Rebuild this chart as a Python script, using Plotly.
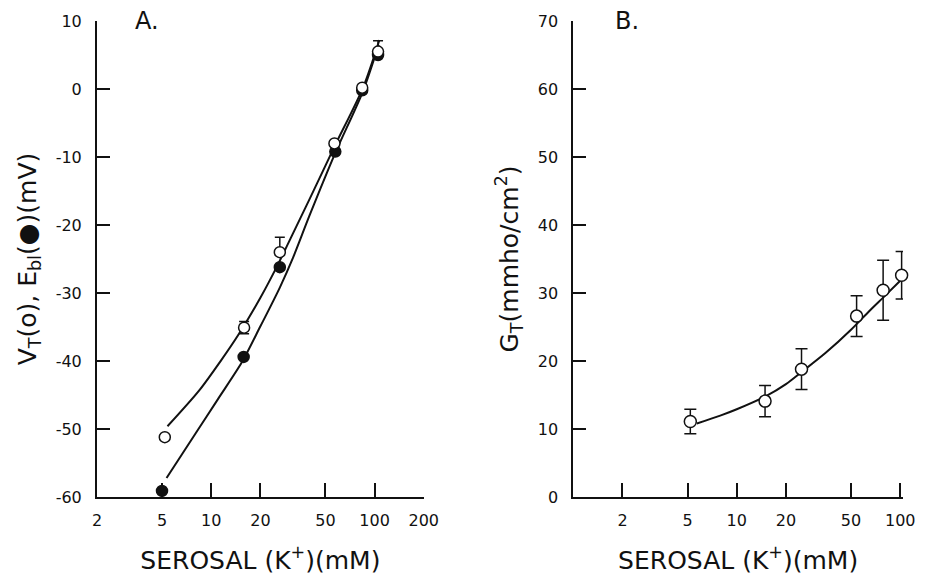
import numpy as np
import plotly.graph_objects as go

# ---------------- Data ----------------
# Panel A
vt_x = [5.2, 15.9, 26.3, 56.8, 84.0, 105.0]
vt_y = [-51.2, -35.1, -24.0, -8.0, 0.2, 5.5]
vt_err_plus = [0.0, 0.9, 2.2, 0.0, 0.0, 1.6]
vt_err_minus = [0.0, 0.9, 0.0, 0.0, 0.0, 0.0]

ebl_x = [5.0, 15.8, 26.3, 57.5, 84.0, 105.0]
ebl_y = [-59.1, -39.4, -26.2, -9.2, -0.2, 5.0]

vt_fit_x = [5.4, 8.4, 11.5, 14.7, 20.0, 25.5, 30.0, 40.0, 57.0, 85.0, 107.0]
vt_fit_y = [-49.6, -44.4, -39.9, -36.1, -30.7, -25.9, -22.4, -16.2, -8.4, 0.2, 7.2]

ebl_fit_x = [5.33, 8.0, 11.0, 15.4, 20.0, 26.3, 31.7, 40.0, 57.5, 85.0, 106.0]
ebl_fit_y = [-57.2, -50.7, -45.6, -40.2, -34.9, -29.2, -24.8, -18.6, -9.4, -0.3, 6.5]

# Panel B
gt_x = [5.2, 14.9, 24.9, 54.1, 78.6, 102.0]
gt_y = [11.1, 14.1, 18.8, 26.6, 30.4, 32.6]
gt_err = [1.8, 2.3, 3.0, 3.0, 4.4, 3.5]

gt_fit_x = [5.7, 8.0, 10.0, 15.0, 20.0, 25.0, 35.0, 50.0, 65.0, 80.0, 100.0]
gt_fit_y = [10.8, 12.0, 12.9, 14.8, 16.6, 18.4, 21.2, 24.6, 27.4, 29.5, 31.8]

# Tick labels
a_xticks = [2, 5, 10, 20, 50, 100, 200]
a_yticks = [10, 0, -10, -20, -30, -40, -50, -60]
b_xticks = [2, 5, 10, 20, 50, 100]
b_yticks = [0, 10, 20, 30, 40, 50, 60, 70]

FONT = "DejaVu Sans"
BLACK = "#111111"

fig = go.Figure()

# ---- Panel A ----
fig.add_trace(go.Scatter(x=vt_fit_x, y=vt_fit_y, mode="lines",
                         line=dict(color=BLACK, width=2, shape="spline", smoothing=0.8),
                         xaxis="x", yaxis="y", showlegend=False, hoverinfo="skip"))
fig.add_trace(go.Scatter(x=ebl_fit_x, y=ebl_fit_y, mode="lines",
                         line=dict(color=BLACK, width=2, shape="spline", smoothing=0.8),
                         xaxis="x", yaxis="y", showlegend=False, hoverinfo="skip"))
fig.add_trace(go.Scatter(x=ebl_x, y=ebl_y, mode="markers", name="E_bl",
                         marker=dict(symbol="circle", size=11, color=BLACK,
                                     line=dict(color=BLACK, width=1.5)),
                         xaxis="x", yaxis="y", showlegend=False, cliponaxis=False))
fig.add_trace(go.Scatter(x=vt_x, y=vt_y, mode="markers", name="V_T",
                         marker=dict(symbol="circle", size=11, color="white",
                                     line=dict(color=BLACK, width=1.5)),
                         error_y=dict(type="data", symmetric=False, array=vt_err_plus,
                                      arrayminus=vt_err_minus, color=BLACK,
                                      thickness=1.5, width=5),
                         xaxis="x", yaxis="y", showlegend=False, cliponaxis=False))

# ---- Panel B ----
fig.add_trace(go.Scatter(x=gt_fit_x, y=gt_fit_y, mode="lines",
                         line=dict(color=BLACK, width=2, shape="spline", smoothing=0.8),
                         xaxis="x2", yaxis="y2", showlegend=False, hoverinfo="skip"))
fig.add_trace(go.Scatter(x=gt_x, y=gt_y, mode="markers", name="G_T",
                         marker=dict(symbol="circle", size=12, color="white",
                                     line=dict(color=BLACK, width=1.5)),
                         error_y=dict(type="data", array=gt_err, color=BLACK,
                                      thickness=1.5, width=6),
                         xaxis="x2", yaxis="y2", showlegend=False, cliponaxis=False))

axis_common = dict(showgrid=False, zeroline=False, showline=True, linecolor=BLACK,
                   linewidth=2, ticks="inside", tickcolor=BLACK, tickwidth=2,
                   tickfont=dict(family=FONT, size=16, color=BLACK),
                   mirror=False)

PW = 814.0  # plot area width in px (930 - 97 - 19)

fig.update_layout(
    width=930, height=582,
    margin=dict(l=97, r=19, t=16, b=84),
    paper_bgcolor="white", plot_bgcolor="white",
    font=dict(family=FONT, color=BLACK),
    xaxis=dict(axis_common, type="log", domain=[0, 330 / PW],
               range=[np.log10(2), np.log10(200)],
               tickvals=a_xticks, ticktext=[str(v) for v in a_xticks],
               ticklen=14, ticklabelstandoff=8, anchor="y",
               title=dict(text="SEROSAL (K<sup>+</sup>)(mM)",
                          font=dict(family=FONT, size=25, color=BLACK), standoff=22)),
    yaxis=dict(axis_common, domain=[0, 1], range=[-60, 10],
               tickvals=a_yticks, ticktext=[str(v) for v in a_yticks],
               ticklen=13, ticklabelstandoff=10, anchor="x",
               title=dict(text="V<sub>T</sub>(o), E<sub>bl</sub>(●)(mV)",
                          font=dict(family=FONT, size=25, color=BLACK), standoff=12)),
    xaxis2=dict(axis_common, type="log", domain=[481 / PW, 1],
                range=[0, np.log10(104)],
                tickvals=b_xticks, ticktext=[str(v) for v in b_xticks],
                ticklen=14, ticklabelstandoff=8, anchor="y2",
                title=dict(text="SEROSAL (K<sup>+</sup>)(mM)",
                           font=dict(family=FONT, size=25, color=BLACK), standoff=22)),
    yaxis2=dict(axis_common, domain=[0, 1], range=[0, 70],
                tickvals=b_yticks, ticktext=[str(v) for v in b_yticks],
                ticklen=13, ticklabelstandoff=10, anchor="x2",
                title=dict(text="G<sub>T</sub>(mmho/cm<sup>2</sup>)",
                           font=dict(family=FONT, size=25, color=BLACK), standoff=12)),
    annotations=[
        dict(text="A.", xref="x domain", yref="y domain", x=0.11, y=1.0,
             xanchor="left", yanchor="middle", showarrow=False,
             font=dict(family=FONT, size=24, color=BLACK)),
        dict(text="B.", xref="x2 domain", yref="y2 domain", x=0.12, y=1.0,
             xanchor="left", yanchor="middle", showarrow=False,
             font=dict(family=FONT, size=24, color=BLACK)),
    ],
)

fig.write_html("out.html")
